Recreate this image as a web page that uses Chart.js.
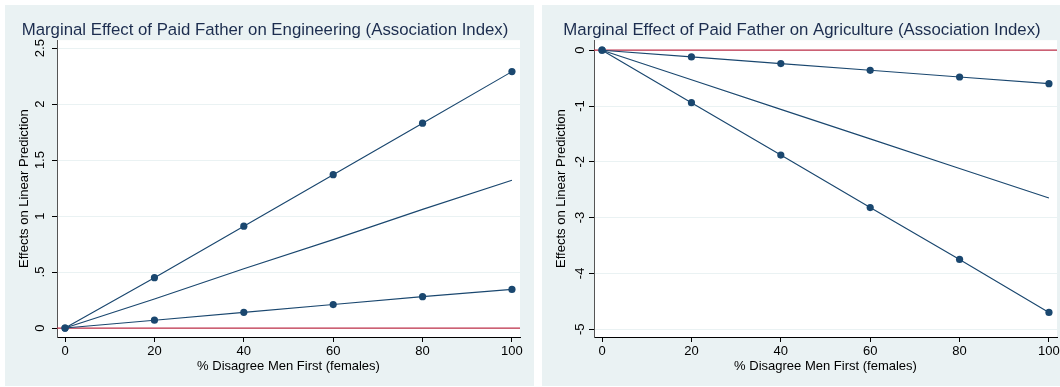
<!DOCTYPE html>
<html>
<head>
<meta charset="utf-8">
<script src="https://cdn.jsdelivr.net/npm/chart.js@4.4.1/dist/chart.umd.min.js"></script>
<style>
  html, body { margin: 0; padding: 0; background: #ffffff; width: 1060px; height: 387px; overflow: hidden; }
  .panel { position: absolute; top: 5px; width: 529px; height: 381px; background: #eaf2f3; }
  #panelEng { left: 5px; }
  #panelAgr { left: 542px; }
  canvas { display: block; }
</style>
</head>
<body>
<div class="panel" id="panelEng"><canvas id="chartEng" width="529" height="381"></canvas></div>
<div class="panel" id="panelAgr"><canvas id="chartAgr" width="529" height="381"></canvas></div>
<script>
// % of females disagreeing that men come first
const pctDisagree = [0, 20, 40, 60, 80, 100];

// Engineering: marginal effect of a paid father and its bounds
const engUpper  = [0, 0.45, 0.91, 1.37, 1.83, 2.29];
const engEffect = [0, 0.26, 0.53, 0.79, 1.06, 1.32];
const engLower  = [0, 0.07, 0.14, 0.21, 0.28, 0.345];

// Agriculture: marginal effect of a paid father and its bounds
const agrUpper  = [0, -0.12, -0.24, -0.36, -0.48, -0.60];
const agrEffect = [0, -0.53, -1.06, -1.59, -2.12, -2.65];
const agrLower  = [0, -0.94, -1.88, -2.82, -3.75, -4.70];

// Axis ticks and their labels
const xTickValues = [0, 20, 40, 60, 80, 100];
const engYTicks  = [0, 0.5, 1, 1.5, 2, 2.5];
const engYLabels = ['0', '.5', '1', '1.5', '2', '2.5'];
const agrYTicks  = [-5, -4, -3, -2, -1, 0];
const agrYLabels = ['-5', '-4', '-3', '-2', '-1', '0'];

const refValue = 0;

const NAVY = '#1a476f';
const REF_RED = '#c0304a';
const FONT = '"Liberation Sans", Arial, Helvetica, sans-serif';

Chart.defaults.font.family = FONT;
Chart.defaults.color = '#000000';

// White plot region inside the tinted panel
const plotBackground = {
  id: 'plotBackground',
  beforeDraw(chart) {
    const { ctx, chartArea: a } = chart;
    ctx.save();
    ctx.fillStyle = '#ffffff';
    ctx.fillRect(a.left, a.top, a.right - a.left, a.bottom - a.top);
    ctx.restore();
  }
};

// Horizontal reference line at zero effect
const referenceLine = {
  id: 'referenceLine',
  beforeDatasetsDraw(chart) {
    const { ctx, chartArea: a, scales } = chart;
    const y = scales.y.getPixelForValue(refValue);
    ctx.save();
    ctx.strokeStyle = REF_RED;
    ctx.lineWidth = 1.2;
    ctx.beginPath();
    ctx.moveTo(a.left, y);
    ctx.lineTo(a.right, y);
    ctx.stroke();
    ctx.restore();
  }
};

function series(values, withMarkers) {
  return {
    data: pctDisagree.map((x, i) => ({ x, y: values[i] })),
    borderColor: NAVY,
    backgroundColor: NAVY,
    borderWidth: 1.15,
    pointRadius: withMarkers ? 3.6 : 0,
    pointBackgroundColor: NAVY,
    pointBorderWidth: 0,
    pointHoverRadius: 0,
    tension: 0,
    fill: false
  };
}

function buildChart(canvasId, title, upper, effect, lower, yMin, yMax, yTicks, yLabels) {
  return new Chart(document.getElementById(canvasId), {
    type: 'line',
    data: {
      datasets: [series(effect, false), series(upper, true), series(lower, true)]
    },
    options: {
      responsive: false,
      animation: false,
      events: [],
      layout: { padding: { left: 5, right: 14, top: 15, bottom: 10 } },
      plugins: {
        legend: { display: false },
        tooltip: { enabled: false },
        title: {
          display: true,
          text: title,
          color: '#1c2d4f',
          font: { size: 16.8, weight: 'normal', lineHeight: 1.2 },
          padding: { top: 0, bottom: 0 }
        }
      },
      scales: {
        x: {
          type: 'linear',
          min: -1.8,
          max: 101.8,
          afterBuildTicks(scale) { scale.ticks = xTickValues.map(v => ({ value: v })); },
          afterFit(scale) { scale.height = 39; },
          ticks: {
            autoSkip: false,
            maxRotation: 0,
            padding: 2,
            color: '#000000',
            font: { size: 13 },
            callback: v => String(v)
          },
          grid: { drawOnChartArea: false, tickLength: 5, tickColor: '#000000', tickWidth: 1 },
          border: { display: true, color: '#000000', width: 1 },
          title: {
            display: true,
            text: '% Disagree Men First (females)',
            color: '#000000',
            font: { size: 13, lineHeight: 1.2 },
            padding: { top: 0, bottom: 2 }
          }
        },
        y: {
          type: 'linear',
          min: yMin,
          max: yMax,
          afterBuildTicks(scale) { scale.ticks = yTicks.map(v => ({ value: v })); },
          afterFit(scale) { scale.width = 47; },
          ticks: {
            autoSkip: false,
            minRotation: 90,
            maxRotation: 90,
            crossAlign: 'center',
            padding: 3,
            color: '#000000',
            font: { size: 13 },
            callback: v => yLabels[yTicks.indexOf(v)]
          },
          grid: { drawOnChartArea: true, color: '#eaf2f3', lineWidth: 1, tickLength: 5, tickColor: '#000000', tickWidth: 1 },
          border: { display: true, color: '#555555', width: 1 },
          title: {
            display: true,
            text: 'Effects on Linear Prediction',
            color: '#000000',
            font: { size: 13, lineHeight: 1.2 },
            padding: { top: 7, bottom: 0 }
          }
        }
      }
    },
    plugins: [plotBackground, referenceLine]
  });
}

buildChart('chartEng', 'Marginal Effect of Paid Father on Engineering (Association Index)',
  engUpper, engEffect, engLower, -0.08, 2.571, engYTicks, engYLabels);
buildChart('chartAgr', 'Marginal Effect of Paid Father on Agriculture (Association Index)',
  agrUpper, agrEffect, agrLower, -5.14, 0.18, agrYTicks, agrYLabels);
</script>
</body>
</html>
